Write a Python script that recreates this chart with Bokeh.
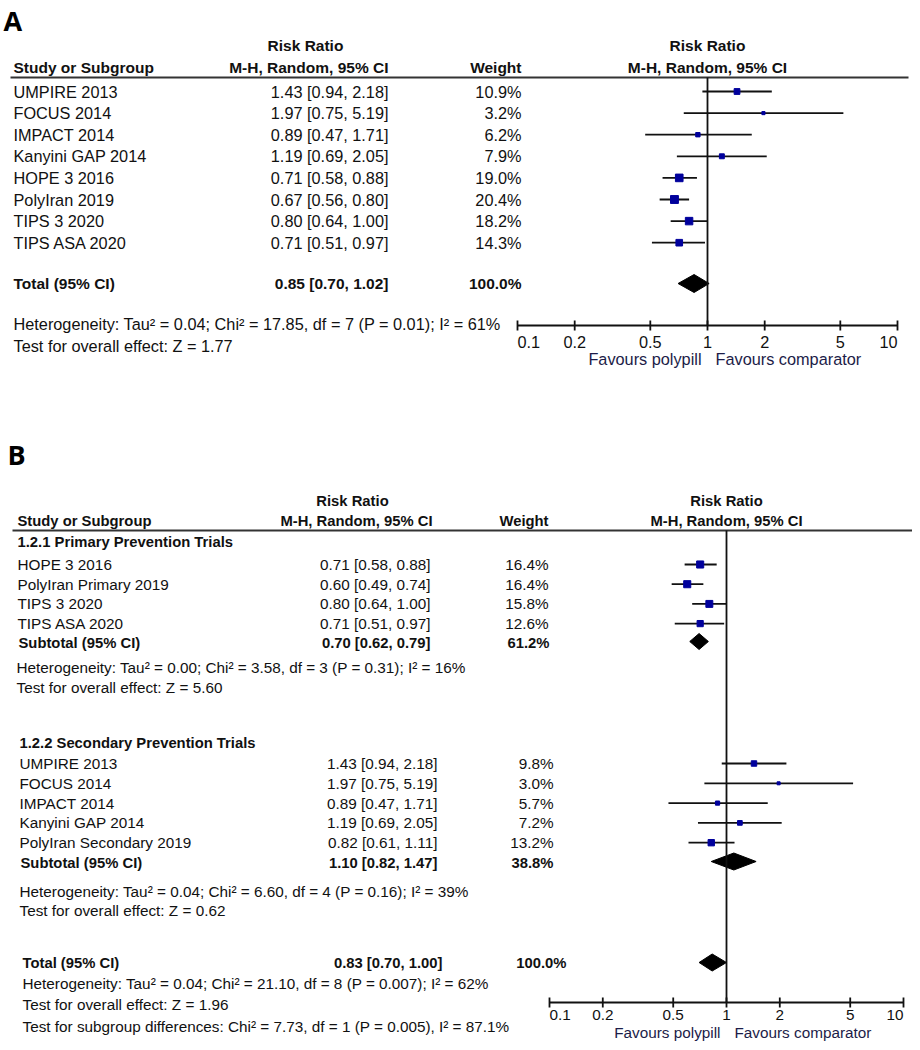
import math
from bokeh.plotting import figure
from bokeh.models import Range1d, LogScale
from bokeh.core.properties import value
from bokeh.embed import file_html
from bokeh.resources import INLINE

# ===================== DATA =====================
# Panel A - all trials
a_studies = ["UMPIRE 2013", "FOCUS 2014", "IMPACT 2014", "Kanyini GAP 2014",
             "HOPE 3 2016", "PolyIran 2019", "TIPS 3 2020", "TIPS ASA 2020"]
a_rr = [1.43, 1.97, 0.89, 1.19, 0.71, 0.67, 0.80, 0.71]
a_lo = [0.94, 0.75, 0.47, 0.69, 0.58, 0.56, 0.64, 0.51]
a_hi = [2.18, 5.19, 1.71, 2.05, 0.88, 0.80, 1.00, 0.97]
a_weight = [10.9, 3.2, 6.2, 7.9, 19.0, 20.4, 18.2, 14.3]
a_total = [0.85, 0.70, 1.02]
a_total_weight = 100.0
a_notes = ["Heterogeneity: Tau\u00b2 = 0.04; Chi\u00b2 = 17.85, df = 7 (P = 0.01); I\u00b2 = 61%",
           "Test for overall effect: Z = 1.77"]

# Panel B - subgroup 1
b1_title = "1.2.1 Primary Prevention Trials"
b1_studies = ["HOPE 3 2016", "PolyIran Primary 2019", "TIPS 3 2020", "TIPS ASA 2020"]
b1_rr = [0.71, 0.60, 0.80, 0.71]
b1_lo = [0.58, 0.49, 0.64, 0.51]
b1_hi = [0.88, 0.74, 1.00, 0.97]
b1_weight = [16.4, 16.4, 15.8, 12.6]
b1_sub = [0.70, 0.62, 0.79]
b1_sub_weight = 61.2
b1_notes = ["Heterogeneity: Tau\u00b2 = 0.00; Chi\u00b2 = 3.58, df = 3 (P = 0.31); I\u00b2 = 16%",
            "Test for overall effect: Z = 5.60"]

# Panel B - subgroup 2
b2_title = "1.2.2 Secondary Prevention Trials"
b2_studies = ["UMPIRE 2013", "FOCUS 2014", "IMPACT 2014", "Kanyini GAP 2014",
              "PolyIran Secondary 2019"]
b2_rr = [1.43, 1.97, 0.89, 1.19, 0.82]
b2_lo = [0.94, 0.75, 0.47, 0.69, 0.61]
b2_hi = [2.18, 5.19, 1.71, 2.05, 1.11]
b2_weight = [9.8, 3.0, 5.7, 7.2, 13.2]
b2_sub = [1.10, 0.82, 1.47]
b2_sub_weight = 38.8
b2_notes = ["Heterogeneity: Tau\u00b2 = 0.04; Chi\u00b2 = 6.60, df = 4 (P = 0.16); I\u00b2 = 39%",
            "Test for overall effect: Z = 0.62"]

# Panel B - overall
b_total = [0.83, 0.70, 1.00]
b_total_weight = 100.0
b_total_notes = ["Heterogeneity: Tau\u00b2 = 0.04; Chi\u00b2 = 21.10, df = 8 (P = 0.007); I\u00b2 = 62%",
                 "Test for overall effect: Z = 1.96",
                 "Test for subgroup differences: Chi\u00b2 = 7.73, df = 1 (P = 0.005), I\u00b2 = 87.1%"]

ticks = [0.1, 0.2, 0.5, 1, 2, 5, 10]
tick_labels = ["0.1", "0.2", "0.5", "1", "2", "5", "10"]
panel_labels = ["A", "B"]
head_study = "Study or Subgroup"
head_rr = ["Risk Ratio", "M-H, Random, 95% CI"]
head_weight = "Weight"
total_label = "Total (95% CI)"
subtotal_label = "Subtotal (95% CI)"
favours = ["Favours polypill", "Favours comparator"]

# ===================== LAYOUT / STYLE =====================
W, H = 912, 1042
OX, OY = 0, 0
FONT = "Liberation Sans"
INK = "#111111"
NAVY = "#1c1c48"
BLUE = "#00009c"
K_SIZE = 1.75

p = figure(width=W, height=H, output_backend="svg", toolbar_location=None,
           x_range=Range1d(OX, OX + W), y_range=Range1d(OY + H, OY),
           x_axis_location=None, y_axis_location=None, min_border=0,
           outline_line_color=None, background_fill_color="white",
           border_fill_color="white")
p.grid.visible = False


def log_range(px_lo, px_hi):
    # pixel positions of 0.1 and 10 on the page
    ppd = (px_hi - px_lo) / 2.0
    lo = 10 ** (-1 - (px_lo - OX) / ppd)
    hi = 10 ** (1 + (OX + W - px_hi) / ppd)
    return Range1d(lo, hi)


p.extra_x_ranges = {"fa": log_range(517, 897), "fb": log_range(549, 903)}
p.extra_x_scales = {"fa": LogScale(), "fb": LogScale()}


def text(xs, ys, texts, size, bold=False, align="left", color=INK, rng="default",
         font=FONT, x_offset=0):
    p.text(x=xs, y=ys, text=texts, text_font=value(font), text_font_size=f"{size}px",
           text_font_style="bold" if bold else "normal", text_align=align,
           text_baseline="middle", text_color=color, x_offset=x_offset,
           x_range_name=rng)


def ci_str(r, l, h):
    return f"{r:.2f} [{l:.2f}, {h:.2f}]"


def rows(names, rr, lo, hi, w, ys, xn, xci, xw, size):
    text([xn] * len(ys), ys, names, size)
    text([xci] * len(ys), ys, [ci_str(a, b, c) for a, b, c in zip(rr, lo, hi)], size, align="right")
    text([xw] * len(ys), ys, [f"{v:.1f}%" for v in w], size, align="right")


def forest(rng, rr, lo, hi, w, ys):
    p.segment(x0=lo, x1=hi, y0=ys, y1=ys, x_range_name=rng, line_color=INK, line_width=1.8)
    p.scatter(x=rr, y=ys, size=[K_SIZE * math.sqrt(v) for v in w], marker="square",
              fill_color=BLUE, line_color=BLUE, x_range_name=rng)


def diamond(rng, est, y, half):
    c, l, h = est
    p.patch(x=[l, c, h, c], y=[y, y - half, y, y + half], x_range_name=rng,
            fill_color="black", line_color="black")


def summary_row(label, est, wt, y, xn, xci, xw, size):
    text([xn], [y], [label], size, bold=True)
    text([xci], [y], [ci_str(*est)], size, bold=True, align="right")
    text([xw], [y], [f"{wt:.1f}%"], size, bold=True, align="right")


def axis(rng, ay, top, size, tick_dy, fav_dy):
    p.segment(x0=[1], x1=[1], y0=[top], y1=[ay], x_range_name=rng, line_color=INK, line_width=1.8)
    p.segment(x0=[ticks[0]], x1=[ticks[-1]], y0=[ay], y1=[ay], x_range_name=rng,
              line_color=INK, line_width=1.8)
    n = len(ticks)
    p.segment(x0=ticks, x1=ticks, y0=[ay - 5] * n, y1=[ay + 5] * n, x_range_name=rng,
              line_color=INK, line_width=1.8)
    ly = ay + tick_dy
    text([ticks[0]], [ly], [tick_labels[0]], size, align="left", rng=rng)
    text(ticks[1:-1], [ly] * (n - 2), tick_labels[1:-1], size, align="center", rng=rng)
    text([ticks[-1]], [ly], [tick_labels[-1]], size, align="right", rng=rng)
    text([1], [ay + fav_dy], [favours[0]], size, align="right", rng=rng, color=NAVY, x_offset=-6)
    text([1], [ay + fav_dy], [favours[1]], size, align="left", rng=rng, color=NAVY, x_offset=8)


# ---------------- Panel A ----------------
SA, SAB = 16.3, 15.5
text([3], [20], [panel_labels[0]], 27, bold=True, font="Open Sans", color="black")
text([305], [45], [head_rr[0]], SAB, bold=True, align="center")
text([13], [67], [head_study], SAB, bold=True)
text([388], [67], [head_rr[1]], SAB, bold=True, align="right")
text([521], [67], [head_weight], SAB, bold=True, align="right")
text([1, 1], [45, 67], head_rr, SAB, bold=True, align="center", rng="fa")
p.segment(x0=[10], x1=[908], y0=[77], y1=[77], line_color="#333333", line_width=2)

ya = [91 + i * 21.6 for i in range(len(a_studies))]
rows(a_studies, a_rr, a_lo, a_hi, a_weight, ya, 13, 388, 521, SA)
forest("fa", a_rr, a_lo, a_hi, a_weight, ya)
summary_row(total_label, a_total, a_total_weight, 283, 13, 388, 521, SAB)
diamond("fa", a_total, 283, 9)
text([13, 13], [323, 345], a_notes, SA)
axis("fa", 325, 77, SA, 16, 33)

# ---------------- Panel B ----------------
SB, SBB = 15.3, 14.8
text([7], [454], [panel_labels[1]], 27, bold=True, font="Open Sans", color="black")
text([352], [500], [head_rr[0]], SBB, bold=True, align="center")
text([17], [520], [head_study], SBB, bold=True)
text([432], [520], [head_rr[1]], SBB, bold=True, align="right")
text([548], [520], [head_weight], SBB, bold=True, align="right")
text([1, 1], [500, 520], head_rr, SBB, bold=True, align="center", rng="fb")
p.segment(x0=[12], x1=[912], y0=[530], y1=[530], line_color="#333333", line_width=2)

# subgroup 1
text([17], [541], [b1_title], SBB, bold=True)
yb1 = [564 + i * 19.7 for i in range(len(b1_studies))]
rows(b1_studies, b1_rr, b1_lo, b1_hi, b1_weight, yb1, 17, 430, 548, SB)
forest("fb", b1_rr, b1_lo, b1_hi, b1_weight, yb1)
summary_row(subtotal_label, b1_sub, b1_sub_weight, 642, 18, 430, 549, SBB)
diamond("fb", b1_sub, 641, 8)
text([16, 16], [667, 687], b1_notes, SB)

# subgroup 2
text([19], [742], [b2_title], SBB, bold=True)
yb2 = [763 + i * 19.8 for i in range(len(b2_studies))]
rows(b2_studies, b2_rr, b2_lo, b2_hi, b2_weight, yb2, 19, 437, 553, SB)
forest("fb", b2_rr, b2_lo, b2_hi, b2_weight, yb2)
summary_row(subtotal_label, b2_sub, b2_sub_weight, 862, 20, 437, 553, SBB)
diamond("fb", b2_sub, 861, 8.5)
text([19, 19], [891, 910], b2_notes, SB)

# overall
summary_row(total_label, b_total, b_total_weight, 962, 22, 442, 566, SBB)
diamond("fb", b_total, 962, 8.5)
text([22, 22, 22], [983, 1004, 1026], b_total_notes, SB)
axis("fb", 1002, 530, SB, 12, 30)

open("out.html", "w").write(file_html(p, INLINE))
